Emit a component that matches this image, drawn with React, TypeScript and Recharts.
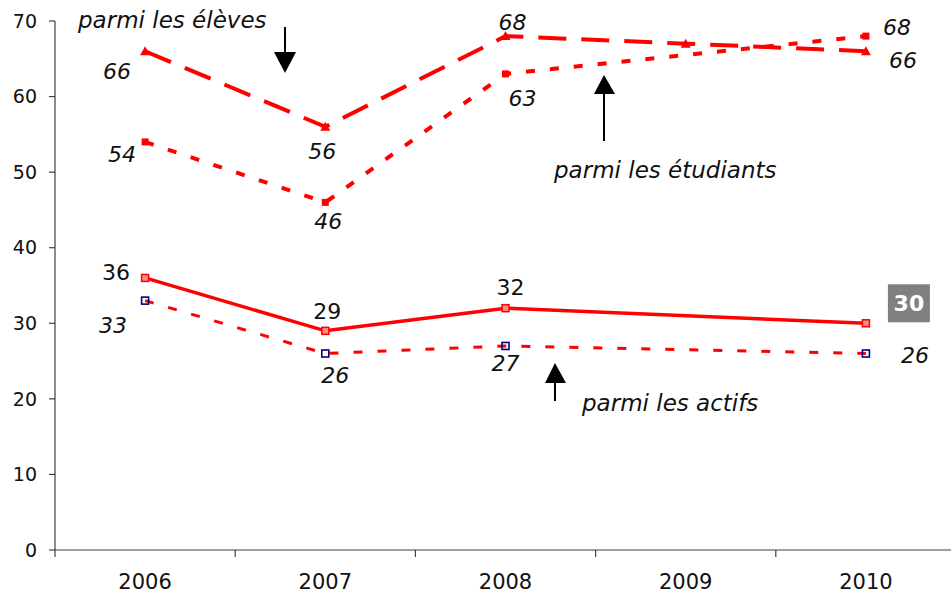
import React from 'react';
import { LineChart, Line, XAxis, YAxis, LabelList } from 'recharts';

// Categories and values
const years = ['2006', '2007', '2008', '2009', '2010'];
const eleves = [66, 56, 68, 67, 66];
const etudiants = [54, 46, 63, null, 68];
const ensemble = [36, 29, 32, null, 30];
const actifs = [33, 26, 27, null, 26];
const yTicks = [0, 10, 20, 30, 40, 50, 60, 70];
// Category boundaries carry the tick marks; labels sit midway between them
const xBoundaries = [-0.5, 0.5, 1.5, 2.5, 3.5, 4.5];

// Label placement relative to each point (dx, dy); null = no label
const elevesLabelOffsets = [[-28, 20], [-3, 25], [7, -14], null, [37, 9]];
const etudiantsLabelOffsets = [[-23, 13], [3, 19], [17, 25], null, [31, -9]];
const ensembleLabelOffsets = [[-29, -5], [2, -19], [5, -21], null, [43, -20]];
const actifsLabelOffsets = [[-32, 25], [10, 22], [0, 18], null, [49, 2]];

const data = years.map((year, i) => ({
  idx: i,
  year,
  eleves: eleves[i],
  etudiants: etudiants[i],
  ensemble: ensemble[i],
  actifs: actifs[i],
}));

const CHART_W = 956;
const Y_AXIS_W = 55;
const HALF_BAND = (CHART_W - Y_AXIS_W) / years.length / 2;

const FONT = '"DejaVu Sans", Verdana, sans-serif';
const RED = '#ff0000';
const AXIS = '#404040';
const TEXT = '#111111';

const ok = (v: any) => v !== null && v !== undefined && !Number.isNaN(v);

const triangleDot = (p: any) => {
  const { cx, cy, index } = p;
  if (!ok(cx) || !ok(cy) || !ok(p.value)) return <g key={`t-${index}`} />;
  return (
    <polygon
      key={`t-${index}`}
      points={`${cx},${cy - 5} ${cx - 5},${cy + 4} ${cx + 5},${cy + 4}`}
      fill={RED}
    />
  );
};

const filledSquareDot = (p: any) => {
  const { cx, cy, index } = p;
  if (!ok(cx) || !ok(cy) || !ok(p.value)) return <g key={`s-${index}`} />;
  return <rect key={`s-${index}`} x={cx - 3.5} y={cy - 3.5} width={7} height={7} fill={RED} />;
};

const pinkSquareDot = (p: any) => {
  const { cx, cy, index } = p;
  if (!ok(cx) || !ok(cy) || !ok(p.value)) return <g key={`p-${index}`} />;
  return (
    <rect
      key={`p-${index}`}
      x={cx - 3.5}
      y={cy - 3.5}
      width={7}
      height={7}
      fill="#ff8a8a"
      stroke={RED}
      strokeWidth={1.5}
    />
  );
};

const navySquareDot = (p: any) => {
  const { cx, cy, index } = p;
  if (!ok(cx) || !ok(cy) || !ok(p.value)) return <g key={`n-${index}`} />;
  return (
    <rect
      key={`n-${index}`}
      x={cx - 3.5}
      y={cy - 3.5}
      width={7}
      height={7}
      fill="none"
      stroke="#000080"
      strokeWidth={1.6}
    />
  );
};

const YearTick = (props: any) => {
  const { x, y, payload } = props;
  const i = Math.round(payload.value + 0.5);
  if (i < 0 || i >= years.length) return <g />;
  return (
    <text
      x={x + HALF_BAND}
      y={y + 30}
      textAnchor="middle"
      fontFamily={FONT}
      fontSize={21}
      fill={TEXT}
    >
      {years[i]}
    </text>
  );
};

const makeLabel =
  (offsets: (number[] | null)[], italic: boolean, boxedIndex: number | null = null) =>
  (props: any) => {
    const { x, y, value, index } = props;
    const off = offsets[index];
    if (!off || !ok(value) || !ok(x) || !ok(y)) return null;
    const cx = x + off[0];
    const cy = y + off[1];
    if (index === boxedIndex) {
      return (
        <g>
          <rect x={cx - 21} y={cy - 19} width={42} height={38} fill="#808080" />
          <text
            x={cx}
            y={cy}
            textAnchor="middle"
            dominantBaseline="central"
            fontFamily={FONT}
            fontSize={22}
            fontWeight="bold"
            fill="#ffffff"
          >
            {value}
          </text>
        </g>
      );
    }
    return (
      <text
        x={cx}
        y={cy}
        textAnchor="middle"
        dominantBaseline="central"
        fontFamily={FONT}
        fontSize={22}
        fontStyle={italic ? 'italic' : 'normal'}
        fill={TEXT}
      >
        {value}
      </text>
    );
  };

const Annotations = () => (
  <svg
    width={951}
    height={594}
    style={{ position: 'absolute', left: 0, top: 0, pointerEvents: 'none' }}
  >
    <g fontFamily={FONT} fontSize={23} fontStyle="italic" fill={TEXT}>
      <text x={78} y={28}>parmi les élèves</text>
      <text x={554} y={178}>parmi les étudiants</text>
      <text x={582} y={411}>parmi les actifs</text>
    </g>
    {/* arrow towards the pupils' curve */}
    <line x1={285} y1={27} x2={285} y2={54} stroke="#000" strokeWidth={2} />
    <polygon points="274,52 296,52 285,73" fill="#000" />
    {/* arrow towards the students' curve */}
    <line x1={604} y1={92} x2={604} y2={141} stroke="#000" strokeWidth={2} />
    <polygon points="594,94 615,94 604,75" fill="#000" />
    {/* arrow towards the workers' curve */}
    <line x1={555} y1={381} x2={555} y2={401} stroke="#000" strokeWidth={2} />
    <polygon points="545,383 566,383 555,363" fill="#000" />
  </svg>
);

export default function App() {
  return (
    <div
      style={{
        position: 'absolute',
        left: 0,
        top: 0,
        width: 951,
        height: 594,
        overflow: 'hidden',
        background: '#ffffff',
      }}
    >
      <LineChart
        width={CHART_W}
        height={594}
        data={data}
        margin={{ top: 21, right: 0, left: 0, bottom: 0 }}
      >
        <XAxis
          dataKey="idx"
          type="number"
          domain={[-0.5, 4.5]}
          ticks={xBoundaries}
          tick={<YearTick />}
          interval={0}
          height={44}
          tickSize={7}
          axisLine={{ stroke: AXIS, strokeWidth: 1.2 }}
          tickLine={{ stroke: AXIS, strokeWidth: 1.2 }}
          allowDataOverflow
        />
        <YAxis
          domain={[0, 70]}
          ticks={yTicks}
          width={Y_AXIS_W}
          tickSize={6}
          tickMargin={12}
          axisLine={{ stroke: AXIS, strokeWidth: 1.2 }}
          tickLine={{ stroke: AXIS, strokeWidth: 1.2 }}
          tick={{ fontFamily: FONT, fontSize: 19, fill: TEXT }}
          interval={0}
        />
        <Line
          dataKey="actifs"
          stroke={RED}
          strokeWidth={3}
          strokeDasharray="9 15"
          dot={navySquareDot}
          activeDot={false}
          connectNulls
          isAnimationActive={false}
        >
          <LabelList dataKey="actifs" content={makeLabel(actifsLabelOffsets, true)} />
        </Line>
        <Line
          dataKey="ensemble"
          stroke={RED}
          strokeWidth={3.5}
          dot={pinkSquareDot}
          activeDot={false}
          connectNulls
          isAnimationActive={false}
        >
          <LabelList dataKey="ensemble" content={makeLabel(ensembleLabelOffsets, false, 4)} />
        </Line>
        <Line
          dataKey="etudiants"
          stroke={RED}
          strokeWidth={4}
          strokeDasharray="9 15"
          dot={filledSquareDot}
          activeDot={false}
          connectNulls
          isAnimationActive={false}
        >
          <LabelList dataKey="etudiants" content={makeLabel(etudiantsLabelOffsets, true)} />
        </Line>
        <Line
          dataKey="eleves"
          stroke={RED}
          strokeWidth={4}
          strokeDasharray="28 15"
          dot={triangleDot}
          activeDot={false}
          connectNulls
          isAnimationActive={false}
        >
          <LabelList dataKey="eleves" content={makeLabel(elevesLabelOffsets, true)} />
        </Line>
      </LineChart>
      <Annotations />
    </div>
  );
}
